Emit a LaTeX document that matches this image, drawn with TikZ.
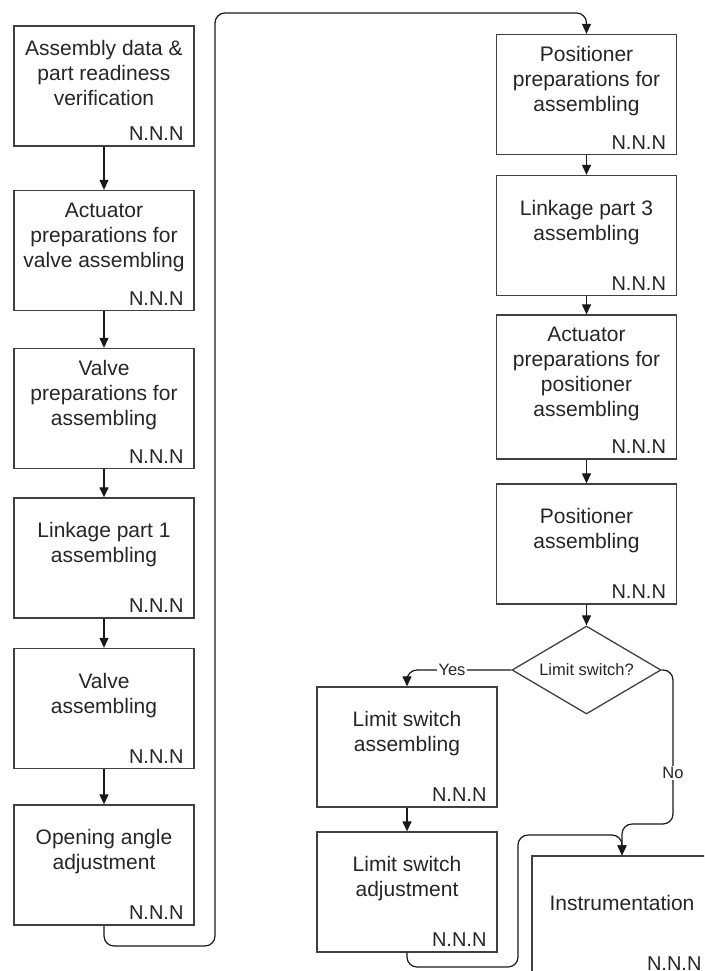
\documentclass[tikz,border=0pt]{standalone}
\usepackage{fontspec}
\setmainfont{Liberation Sans}
\usetikzlibrary{arrows.meta,shapes.geometric}

\tikzset{
  procbox/.style={draw=black!75, line width=1.3pt, minimum width=180pt,
    minimum height=120pt, inner sep=0pt, fill=white},
  boxtitle/.style={align=center, font=\fontsize{21}{25}\selectfont,
    text=black!85, inner sep=0pt},
  boxcode/.style={anchor=base east, font=\fontsize{20}{24}\selectfont,
    text=black!85, inner sep=0pt},
  decision/.style={diamond, draw=black!75, line width=1.3pt,
    minimum width=149pt, minimum height=88pt, aspect=1.7, inner sep=0pt,
    font=\fontsize{16.5}{19}\selectfont, text=black!85},
  conn/.style={draw=black!90, line width=1.2pt, rounded corners=10pt,
    -{Triangle[length=10pt,width=9pt]}},
  linelabel/.style={fill=white, inner sep=1.5pt,
    font=\fontsize{16.5}{19}\selectfont, text=black!85},
}

% process step: name, x, y, height, title
\newcommand\procstep[5]{%
  \node[procbox, minimum height=#4pt] (#1) at (#2,#3) {};
  \node[boxtitle] (#1-t) at ([yshift=13pt]#1.center) {#5};
  \node[boxcode] (#1-c) at ([xshift=-11pt,yshift=6pt]#1.south east) {N.N.N};
}

\begin{document}
\begin{tikzpicture}[x=1pt,y=-1pt]
\useasboundingbox (0,0) rectangle (704,971);
\clip (0,0) rectangle (704,971);

% left column
\procstep{a1}{104}{86}{120}{Assembly data \&\\part readiness\\verification}
\procstep{a2}{104}{250.5}{120}{Actuator\\preparations for\\valve assembling}
\procstep{a3}{104}{408.5}{120}{Valve\\preparations for\\assembling}
\procstep{a4}{104}{558}{120}{Linkage part 1\\assembling}
\procstep{a5}{104}{708.5}{120}{Valve\\assembling}
\procstep{a6}{104}{865}{120}{Opening angle\\adjustment}

% right column
\procstep{p1}{586.5}{94.5}{120}{Positioner\\preparations for\\assembling}
\procstep{p2}{586.5}{235.5}{120}{Linkage part 3\\assembling}
\procstep{p3}{586.5}{387}{144}{Actuator\\preparations for\\positioner\\assembling}
\procstep{p4}{586.5}{544}{120}{Positioner\\assembling}
\node[decision] (d) at (586.5,670) {Limit switch?};

% limit switch branch and instrumentation
\procstep{l1}{407}{747}{120}{Limit switch\\assembling}
\procstep{l2}{407}{892}{120}{Limit switch\\adjustment}
\procstep{ins}{622}{916}{120}{Instrumentation}

% bend points
\coordinate (loopA) at (104,946);
\coordinate (loopB) at (215,946);
\coordinate (loopC) at (215,13);
\coordinate (noA) at (673,670);
\coordinate (noB) at (673,824);
\coordinate (noC) at (622,824);
\coordinate (lsA) at (407,967);
\coordinate (lsB) at (518,967);
\coordinate (lsC) at (518,835);
\coordinate (lsD) at (622,835);

% connectors
\draw[conn] (a1.south) -- (a2.north);
\draw[conn] (a2.south) -- (a3.north);
\draw[conn] (a3.south) -- (a4.north);
\draw[conn] (a4.south) -- (a5.north);
\draw[conn] (a5.south) -- (a6.north);
\draw[conn] (a6.south) -- (loopA) -- (loopB) -- (loopC) -| (p1.north);
\draw[conn] (p1.south) -- (p2.north);
\draw[conn] (p2.south) -- (p3.north);
\draw[conn] (p3.south) -- (p4.north);
\draw[conn] (p4.south) -- (d.north);
\draw[conn] (d.west) -| (l1.north);
\draw[conn] (l1.south) -- (l2.north);
\draw[conn] (d.east) -- (noA) -- (noB) -- (noC) -- (ins.north);
\draw[conn] (l2.south) -- (lsA) -- (lsB) -- (lsC) -- (lsD) -- (ins.north);

% branch labels
\node[linelabel] (yes) at (452,670) {Yes};
\node[linelabel] (no) at (673,773) {No};
\end{tikzpicture}
\end{document}
